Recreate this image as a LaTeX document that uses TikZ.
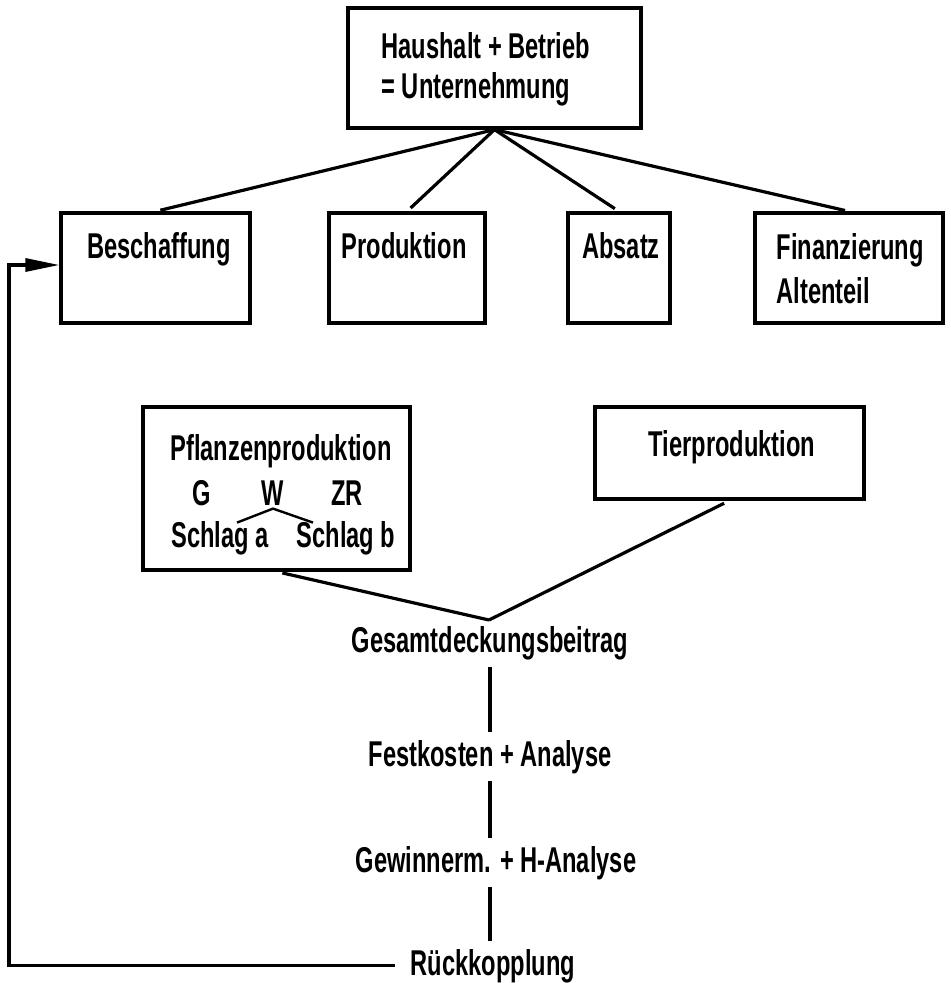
\documentclass[tikz,border=0pt]{standalone}
\usepackage{fontspec}
\setmainfont{Liberation Sans}[FakeStretch=0.66]
\usetikzlibrary{arrows.meta}

\begin{document}
\begin{tikzpicture}[x=1bp, y=-1bp, line width=3.2bp,
        box/.style={draw, inner sep=0pt},
        word/.style={anchor=base, inner sep=6bp},
        every node/.style={font=\fontsize{36}{40}\selectfont\bfseries}]
            \useasboundingbox (0,0) rectangle (951,983);

            \node[box, minimum width=293bp, minimum height=120bp] (unt) at (494.5,68) {};
            \node[anchor=north west, inner sep=0pt, align=left] (unttxt) at (380,31) {Haushalt + Betrieb\\= Unternehmung};

            \node[box, minimum width=189bp, minimum height=110bp] (besch) at (155.5,268) {};
            \node[box, minimum width=156bp, minimum height=110bp] (prod) at (407,268) {};
            \node[box, minimum width=102bp, minimum height=110bp] (absatz) at (619,268) {};
            \node[box, minimum width=188bp, minimum height=110bp] (fin) at (849,268) {};
            \node[word] (beschtxt) at (159,258) {Beschaffung};
            \node[word] (prodtxt) at (404,258) {Produktion};
            \node[word] (absatztxt) at (621,258) {Absatz};
            \node[anchor=north west, inner sep=0pt, align=left] (fintxt) at (775,232) {Finanzierung\\[4bp]Altenteil};

            \draw[shorten >=5bp] (unt.south) -- (besch.north);
            \draw[shorten >=5bp] (unt.south) -- (prod.north);
            \draw[shorten >=5bp] (unt.south) -- (absatz.north);
            \draw[shorten >=4bp] (unt.south) -- (fin.north);

            \node[box, minimum width=267bp, minimum height=163bp] (pflanz) at (276.5,488.5) {};
            \node[box, minimum width=269bp, minimum height=92bp] (tier) at (729.5,453) {};
            \node[word] (pflanztxt) at (281,460) {Pflanzenproduktion};
            \node[word, inner sep=2bp] (g) at (202,505) {G};
            \node[word, inner sep=2bp] (w) at (273,505) {W};
            \node[word, inner sep=2bp] (zr) at (347,505) {ZR};
            \node[word] (schlaga) at (220,547) {Schlag a};
            \node[word] (schlagb) at (346,547) {Schlag b};
            \draw[line width=2.4bp] (w.south) ++(-36,14) -- (w.south) -- ++(40,14);
            \node[word] (tiertxt) at (732,456) {Tierproduktion};

            \node[word] (gesamt) at (490,652) {Gesamtdeckungsbeitrag};
            \coordinate (join) at (489,620);
            \draw[shorten <=6bp] (pflanz.south) -- (join);
            \draw[shorten <=6bp] (tier.south) -- (join);

            \node[word] (fest) at (490,766) {Festkosten + Analyse};
            \node[word] (gewinn) at (496,872) {Gewinnerm. + H-Analyse};
            \node[word] (rueck) at (493,975) {Rückkopplung};
            \draw (gesamt.south) -- (gesamt.south |- fest.north);
            \draw (gesamt.south |- fest.south) -- (gesamt.south |- gewinn.north);
            \draw (gesamt.south |- gewinn.south) -- (gesamt.south |- rueck.north);

            \coordinate (fb) at (9,265);
            \draw[-{Triangle[length=34bp,width=13bp]}, shorten <=8bp] (rueck.west) -- (rueck.west -| fb) -- (fb) -- (fb -| besch.west);
        \end{tikzpicture}
\end{document}
